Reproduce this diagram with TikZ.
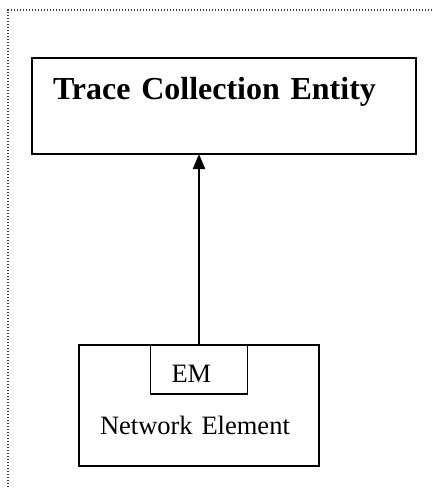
\documentclass[tikz,border=0pt]{standalone}
\usepackage{fontspec}
\setmainfont{Liberation Serif}
\usetikzlibrary{arrows.meta,positioning}

\begin{document}
\begin{tikzpicture}[
    x=1pt, y=-1pt,
    entity/.style={rectangle, draw, line width=2pt, outer sep=0pt, inner ysep=0pt, inner xsep=21pt,
        text width=342pt, align=left, text height=41pt, text depth=55pt,
        font=\fontsize{32}{38}\selectfont\bfseries},
    element/.style={rectangle, draw, line width=1.8pt, outer sep=0pt, inner ysep=0pt, inner xsep=21pt,
        text width=198pt, align=left, text height=89pt, text depth=32pt,
        font=\fontsize{26.5}{32}\selectfont},
    manager/.style={rectangle, draw, line width=1.8pt, outer sep=0pt, inner ysep=0pt, inner xsep=21pt,
        text width=55pt, align=left, text height=37pt, text depth=12pt,
        font=\fontsize{26.5}{32}\selectfont},
    frame/.style={line width=1.2pt, black!75, dash pattern=on 1.2pt off 1.8pt}
]
    \useasboundingbox (0,0) rectangle (432,488);

    % Dotted frame
    \draw[frame] (432,10) -- (8,10) -- (8,488);

    % Trace collection entity
    \node[entity, anchor=north west] (tce) at (32,58) {Trace Collection Entity};

    % Network element
    \node[element, anchor=north west] (ne) at (79,345) {Network Element};

    % Element manager
    \node[manager, anchor=north] (em) at (ne.north) {EM};

    % Arrow
    \draw[-{Triangle[width=12pt,length=15pt]}, line width=2pt] (em.north) -- (em.north |- tce.south);
\end{tikzpicture}
\end{document}
